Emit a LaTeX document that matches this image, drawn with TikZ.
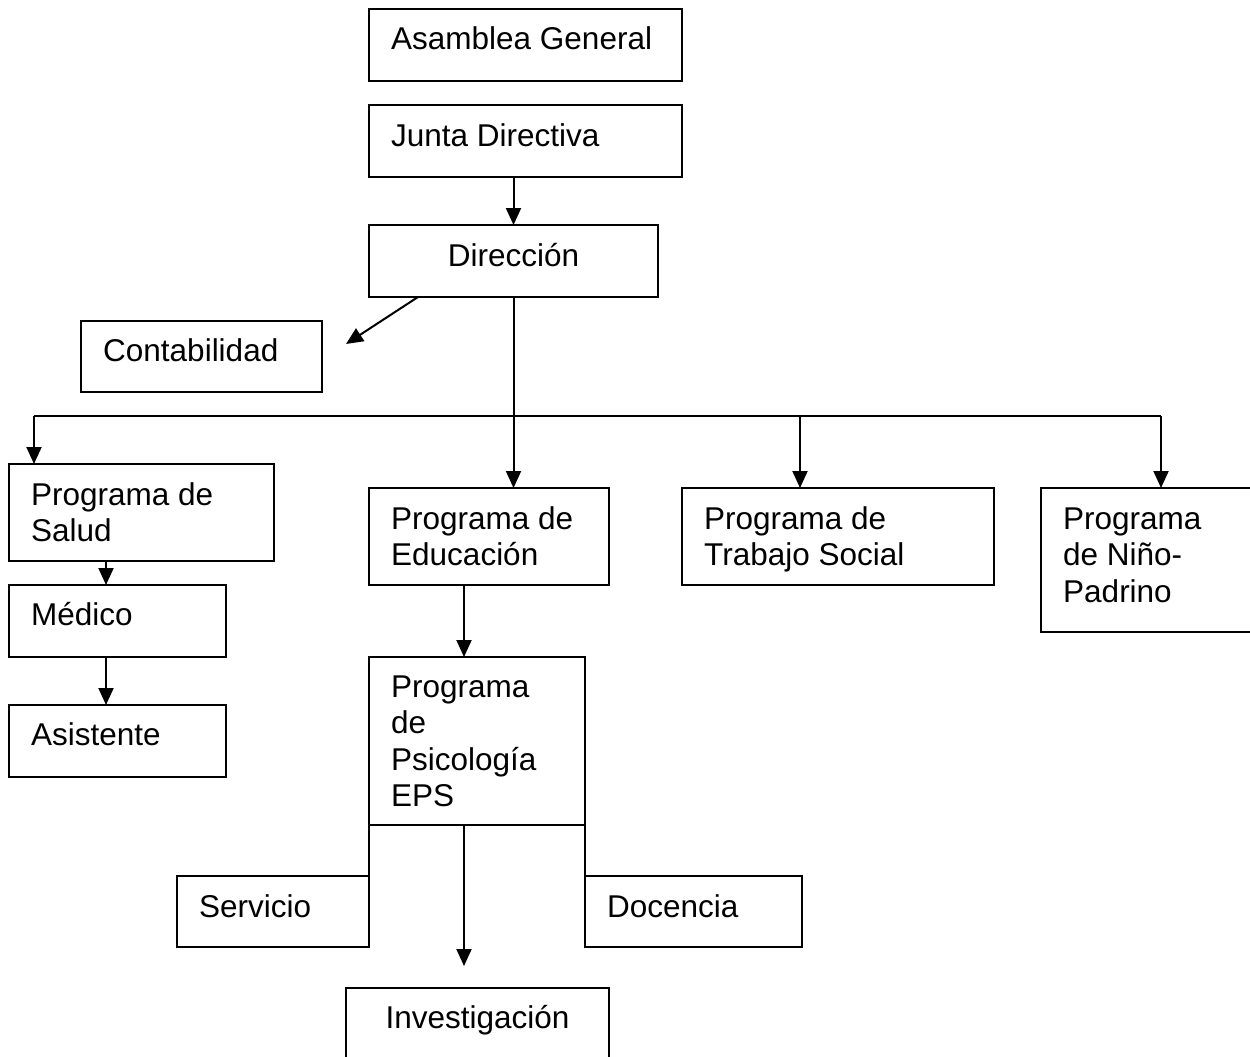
\documentclass[tikz,border=0pt]{standalone}
\usepackage{fontspec}
\setmainfont{Liberation Sans}
\usetikzlibrary{arrows.meta,calc}
\begin{document}
\begin{tikzpicture}[x=1pt,y=-1pt,
  box/.style={draw, line width=2pt, inner sep=0pt, outer sep=0pt, anchor=north west},
  obox/.style={inner sep=0pt, outer sep=0pt, anchor=north west},
  txt/.style={anchor=base west, inner sep=0pt, font=\fontsize{31.5}{36.6}\selectfont, align=left},
  ctxt/.style={anchor=base, inner sep=0pt, font=\fontsize{31.5}{36.6}\selectfont},
  arr/.style={line width=2pt, -{Triangle[width=15pt,length=17pt]}},
  ln/.style={line width=2pt}]
\useasboundingbox (0,0) rectangle (1250,1057);
% boxes
\node[box, minimum width=313pt, minimum height=72pt] (asam) at (369,9) {};
\node[box, minimum width=313pt, minimum height=72pt] (junta) at (369,105) {};
\node[box, minimum width=289pt, minimum height=72pt] (dir) at (369,225) {};
\node[box, minimum width=241pt, minimum height=71pt] (conta) at (81,321) {};
\node[box, minimum width=265pt, minimum height=97pt] (salud) at (9,464) {};
\node[box, minimum width=217pt, minimum height=72pt] (med) at (9,585) {};
\node[box, minimum width=217pt, minimum height=72pt] (asis) at (9,705) {};
\node[box, minimum width=240pt, minimum height=97pt] (edu) at (369,488) {};
\node[box, minimum width=312pt, minimum height=97pt] (trab) at (682,488) {};
\node[obox, minimum width=200pt, minimum height=144pt] (nino) at (1041,488) {};
\node[box, minimum width=216pt, minimum height=168pt] (psi) at (369,657) {};
\node[box, minimum width=192pt, minimum height=71pt] (serv) at (177,876) {};
\node[box, minimum width=217pt, minimum height=71pt] (doc) at (585,876) {};
\node[obox, minimum width=263pt, minimum height=60pt] (inv) at (346,988) {};
\draw[ln] (1252,488) -- (nino.north west) -- (nino.south west) -- (1252,632);
\draw[ln] (346,1059) -- (inv.north west) -- (inv.north east) -- (609,1059);
% texts
\node[txt] (tasam) at ($(asam.north west)+(22,41)$) {Asamblea General};
\node[txt] (tjunta) at ($(junta.north west)+(22,41)$) {Junta Directiva};
\node[ctxt] (tdir) at ($(dir.north)+(0,41)$) {Dirección};
\node[txt] (tconta) at ($(conta.north west)+(22,40)$) {Contabilidad};
\node[txt] (tsalud) at ($(salud.north west)+(22,77.6)$) {Programa de\\Salud};
\node[txt] (tmed) at ($(med.north west)+(22,40)$) {Médico};
\node[txt] (tasis) at ($(asis.north west)+(22,40)$) {Asistente};
\node[txt] (tedu) at ($(edu.north west)+(22,77.6)$) {Programa de\\Educación};
\node[txt] (ttrab) at ($(trab.north west)+(22,77.6)$) {Programa de\\Trabajo Social};
\node[txt] (tnino) at ($(nino.north west)+(22,114.2)$) {Programa\\de Niño-\\Padrino};
\node[txt] (tpsi) at ($(psi.north west)+(22,149.8)$) {Programa\\de\\Psicología\\EPS};
\node[txt] (tserv) at ($(serv.north west)+(22,41)$) {Servicio};
\node[txt] (tdoc) at ($(doc.north west)+(22,41)$) {Docencia};
\node[ctxt] (tinv) at ($(inv.north)+(0,40)$) {Investigación};
% connectors
\draw[arr] (dir.north |- junta.south) -- (dir.north);
\draw[arr] ($(dir.south west)+(49,0)$) -- ($(conta.east)+(24,-12.5)$);
\coordinate (busL) at ($(salud.north west)+(25,-48)$);
\coordinate (busR) at ($(nino.north west)+(120,-72)$);
\draw[ln] (busL) -- (busR);
\draw[arr] (busL) -- (busL |- salud.north);
\draw[arr] (dir.south) -- (dir.south |- edu.north);
\draw[arr] ($(trab.north west)+(118,-72)$) -- ($(trab.north west)+(118,0)$);
\draw[arr] (busR) -- (busR |- nino.north);
\draw[arr] ($(salud.south west)+(97,0)$) -- ($(med.north west)+(97,0)$);
\draw[arr] ($(med.south west)+(97,0)$) -- ($(asis.north west)+(97,0)$);
\draw[arr] ($(edu.south west)+(95,0)$) -- ($(psi.north west)+(95,0)$);
\draw[arr] ($(psi.south west)+(95,0)$) -- ($(inv.north west)+(118,-22)$);
\draw[ln] (psi.south west) -- (psi.south west |- serv.north);
\draw[ln] (psi.south east) -- (psi.south east |- doc.north);
\end{tikzpicture}
\end{document}
